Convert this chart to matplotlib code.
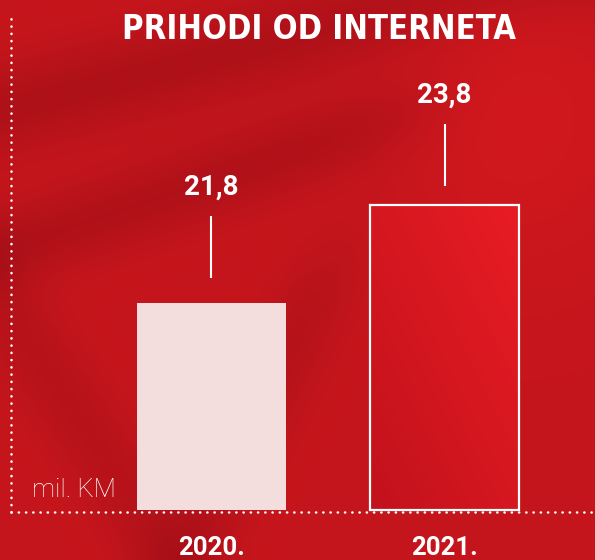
import numpy as np
import matplotlib
matplotlib.use("Agg")
import matplotlib.pyplot as plt

# data
years = ["2020.", "2021."]
values = [21.8, 23.8]
value_labels = ["21,8", "23,8"]
title = "PRIHODI OD INTERNETA"
unit = "mil. KM"

W, H = 595, 560
fig = plt.figure(figsize=(W / 100, H / 100), dpi=100)

# background (red texture, decoration only)
bg = fig.add_axes([0, 0, 1, 1], zorder=0)
yy, xx = np.mgrid[0:H, 0:W].astype(float)
base = np.array([0.775, 0.085, 0.110])
dark = np.array([0.650, 0.060, 0.095])
light = np.array([0.850, 0.100, 0.125])

def band(x0, y0, x1, y1, width):
    dx, dy = x1 - x0, y1 - y0
    n = np.hypot(dx, dy)
    d = ((xx - x0) * dy - (yy - y0) * dx) / n
    return np.exp(-(d / width) ** 2)

def soft(v, c, s):
    return 1 / (1 + np.exp((v - c) / s))

wd = np.clip(0.7 * band(0, 110, 480, -10, 45)
             + 0.65 * band(0, 250, 420, 110, 38) * soft(xx, 440, 30)
             + 0.5 * band(180, 560, 330, 260, 40) * soft(-yy, -260, 30)
             + 0.45 * band(0, 300, 80, 420, 40), 0, 1)
wl = 0.6 * np.exp(-(((xx - 520) / 120) ** 2 + ((yy - 120) / 140) ** 2))
img = base[None, None, :] * (1 - wd[..., None]) + dark[None, None, :] * wd[..., None]
img = img * (1 - wl[..., None]) + light[None, None, :] * wl[..., None]
bg.imshow(img, extent=[0, W, H, 0], aspect="auto", interpolation="bilinear")
bg.set_xlim(0, W)
bg.set_ylim(H, 0)
bg.axis("off")

# plot area: left dotted line at x=11, baseline at y=512, top at y=12
left_px, base_px, top_px = 11, 512, 12
ax = fig.add_axes([left_px / W, (H - base_px) / H, (W - left_px) / W, (base_px - top_px) / H], zorder=1)
ax.patch.set_alpha(0)

px_per_unit = 49.0
ybase = values[0] - (base_px - 303) / px_per_unit
ytop = ybase + (base_px - top_px) / px_per_unit

centers_px = [211.5, 444.5]
spacing = centers_px[1] - centers_px[0]
x = np.arange(len(years))
bw = 149 / spacing
upy = 1.0 / px_per_unit

heights = [v - ybase - 2 * upy for v in values]
ax.bar(x[0], heights[0], width=bw, bottom=ybase + 2 * upy, color="#f3dddd", linewidth=0)
ax.bar(x[1], heights[1], width=bw, bottom=ybase + 2 * upy, color="none",
       edgecolor="white", linewidth=1.6, zorder=3)

# soft gradient inside the 2021 bar
gy, gx = np.mgrid[0:50, 0:50] / 49.0
g = np.clip((gx + (1 - gy)) / 2, 0, 1)[..., None]
grad = np.array([0.76, 0.07, 0.11]) * (1 - g) + np.array([0.91, 0.11, 0.14]) * g
ax.imshow(grad, extent=[x[1] - bw / 2, x[1] + bw / 2, ybase + 2 * upy, values[1]],
          aspect="auto", zorder=2, origin="upper", interpolation="bilinear")
ax.set_xlim(-(centers_px[0] - left_px) / spacing, 1 + (W - centers_px[1]) / spacing)
ax.set_ylim(ybase, ytop)

gaps = [25, 19]
for i, (v, lab) in enumerate(zip(values, value_labels)):
    ax.plot([x[i], x[i]], [v + gaps[i] * upy, v + (gaps[i] + 62) * upy],
            color="white", lw=1.5, solid_capstyle="butt")
    ax.text(x[i], v + (gaps[i] + 62 + 29) * upy, lab, ha="center", va="center",
            color="white", fontsize=20, fontweight="bold", family=["Roboto", "DejaVu Sans"])

# dotted axes
dots = dict(color="white", lw=1.8, linestyle=(0, (0.1, 2.8)), dash_capstyle="round",
            transform=ax.transAxes, clip_on=False, zorder=4)
ax.plot([0, 0], [0, 1], **dots)
ax.plot([0, 1], [0, 0], **dots)

for s in ax.spines.values():
    s.set_visible(False)
ax.set_yticks([])
ax.set_xticks(x)
ax.set_xticklabels(years, color="white", fontsize=18.5, fontweight="bold",
                   family=["Roboto", "DejaVu Sans"])
ax.tick_params(axis="x", length=0, pad=17)

ax.text((32 - left_px) / (W - left_px), (base_px - 497) / (base_px - top_px), unit,
        transform=ax.transAxes, ha="left", va="baseline", color="white",
        fontsize=18.5, fontweight="light", family=["Roboto", "DejaVu Sans"])

fig.text(319 / W, 1 - 39 / H, title, ha="center", va="baseline", color="white",
         fontsize=23.5, fontweight="bold", fontstretch="condensed",
         family=["DejaVu Sans"])

fig.savefig("out.png", dpi=100)
